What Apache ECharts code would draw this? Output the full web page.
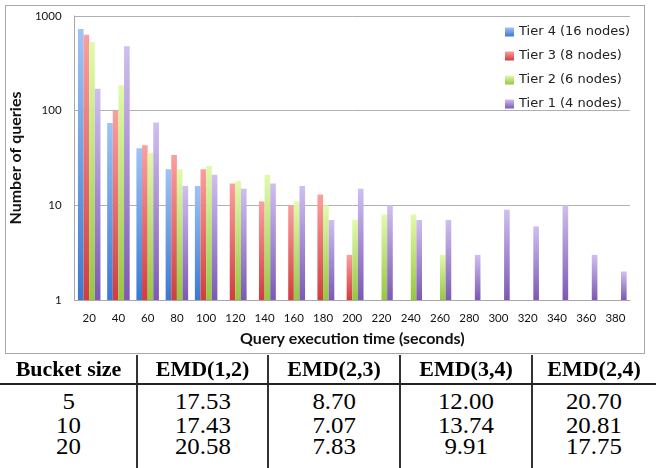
<!DOCTYPE html>
<html>
<head>
<meta charset="utf-8">
<script src="https://cdn.jsdelivr.net/npm/echarts@6/dist/echarts.min.js"></script>
<style>
  html, body { margin: 0; padding: 0; background: #fff; }
  #wrap { position: relative; width: 656px; height: 468px; overflow: hidden; background: #fff; }
  #box { position: absolute; left: 5px; top: 5px; width: 638px; height: 347px; border: 1px solid #a8a8a8; }
  #chart { position: absolute; left: 0; top: 0; width: 656px; height: 355px; }
  .vl { position: absolute; top: 355px; width: 2px; height: 113px; background: #333; }
  .hl { position: absolute; left: 0; top: 383px; width: 656px; height: 1.5px; background: #222; }
  .cell { position: absolute; text-align: center; font-family: "Liberation Serif", "Times New Roman", serif; color: #000; white-space: nowrap; }
  .hdr { font-weight: bold; font-size: 22px; height: 30px; line-height: 30px; }
  .bod { font-size: 23px; height: 30px; line-height: 30px; }
  .bod span { display: inline-block; transform: scaleX(1.08); }
</style>
</head>
<body>
<div id="wrap">
  <div id="box"></div>
  <div id="chart"></div>
  <div id="table"></div>
</div>
<script>
// ---- chart data ----
const categories = ['20','40','60','80','100','120','140','160','180','200','220','240','260','280','300','320','340','360','380'];
const seriesNames = ['Tier 4 (16 nodes)', 'Tier 3 (8 nodes)', 'Tier 2 (6 nodes)', 'Tier 1 (4 nodes)'];
const tier4 = [730, 74, 40, 24, 16, '-', '-', '-', '-', '-', '-', '-', '-', '-', '-', '-', '-', '-', '-'];
const tier3 = [635, 100, 43, 34, 24, 17, 11, 10, 13, 3, '-', '-', '-', '-', '-', '-', '-', '-', '-'];
const tier2 = [530, 185, 36, 24, 26, 18, 21, 11, 10, 7, 8, 8, 3, '-', '-', '-', '-', '-', '-'];
const tier1 = [170, 480, 75, 16, 21, 15, 17, 16, 7, 15, 10, 7, 7, 3, 9, 6, 10, 3, 2];
const yTicks = [1, 10, 100, 1000];

// ---- table data ----
const tableHeader = ['Bucket size', 'EMD(1,2)', 'EMD(2,3)', 'EMD(3,4)', 'EMD(2,4)'];
const bucketSizes = ['5', '10', '20'];
const emd12 = ['17.53', '17.43', '20.58'];
const emd23 = ['8.70', '7.07', '7.83'];
const emd34 = ['12.00', '13.74', '9.91'];
const emd24 = ['20.70', '20.81', '17.75'];

const seriesData = [tier4, tier3, tier2, tier1];
const gradients = [
  ['#9dc4f6', '#3a79d2'],
  ['#fb9f9f', '#d13d3d'],
  ['#e2faab', '#96c743'],
  ['#cfbff0', '#7c59b4']
];

const chart = echarts.init(document.getElementById('chart'), null, { renderer: 'canvas' });
const option = {
  animation: false,
  textStyle: { fontFamily: 'Lato' },
  grid: { left: 71, right: 26, top: 16, bottom: 55, containLabel: false },
  legend: {
    orient: 'vertical',
    left: 500,
    top: 20,
    itemWidth: 9,
    itemHeight: 9,
    itemGap: 10,
    icon: 'rect',
    textStyle: { fontFamily: 'DejaVu Sans', fontSize: 13, color: '#222', lineHeight: 14 },
    data: seriesNames
  },
  xAxis: {
    type: 'category',
    data: categories,
    axisLine: { show: true, lineStyle: { color: '#a8a8a8', width: 1 } },
    axisTick: { show: false },
    axisLabel: { fontFamily: 'Lato', fontSize: 11.5, color: '#111', margin: 12, interval: 0 },
    name: 'Query execution time (seconds)',
    nameLocation: 'middle',
    nameGap: 31,
    nameTextStyle: { fontFamily: 'Lato', fontWeight: 'bold', fontSize: 16, color: '#111' }
  },
  yAxis: {
    type: 'log',
    logBase: 10,
    min: yTicks[0],
    max: yTicks[yTicks.length - 1],
    axisLine: { show: true, lineStyle: { color: '#a8a8a8', width: 1 } },
    axisTick: { show: false },
    splitLine: { show: true, lineStyle: { color: '#b0b0b0', width: 1 } },
    axisLabel: { fontFamily: 'Lato', fontSize: 11.5, color: '#111', margin: 13, formatter: v => String(v) },
    name: 'Number of queries',
    nameLocation: 'middle',
    nameGap: 38,
    nameTextStyle: { fontFamily: 'Lato', fontWeight: 'bold', fontSize: 16, color: '#111' }
  },
  series: seriesNames.map((name, i) => ({
    name: name,
    type: 'bar',
    data: seriesData[i],
    barGap: '0%',
    barCategoryGap: '23%',
    itemStyle: {
      color: new echarts.graphic.LinearGradient(0, 0, 0, 1, [
        { offset: 0, color: gradients[i][0] },
        { offset: 1, color: gradients[i][1] }
      ])
    }
  }))
};
chart.setOption(option);

// ---- table (HTML) ----
const colBounds = [0, 137, 268, 400, 532, 656];
const rowCenters = [402, 426, 447];
const headerCenter = 369;
const t = document.getElementById('table');
[137, 268, 400, 532].forEach(x => {
  const d = document.createElement('div'); d.className = 'vl'; d.style.left = (x - 1) + 'px'; t.appendChild(d);
});
const hl = document.createElement('div'); hl.className = 'hl'; t.appendChild(hl);
function addCell(text, col, cy, cls) {
  const d = document.createElement('div');
  d.className = 'cell ' + cls;
  d.style.left = colBounds[col] + 'px';
  d.style.width = (colBounds[col + 1] - colBounds[col]) + 'px';
  d.style.top = (cy - 15) + 'px';
  if (cls === 'bod') { const s = document.createElement('span'); s.textContent = text; d.appendChild(s); }
  else d.textContent = text;
  t.appendChild(d);
}
tableHeader.forEach((h, c) => addCell(h, c, headerCenter, 'hdr'));
const cols = [bucketSizes, emd12, emd23, emd34, emd24];
rowCenters.forEach((cy, r) => cols.forEach((col, c) => addCell(col[r], c, cy, 'bod')));
</script>
</body>
</html>
